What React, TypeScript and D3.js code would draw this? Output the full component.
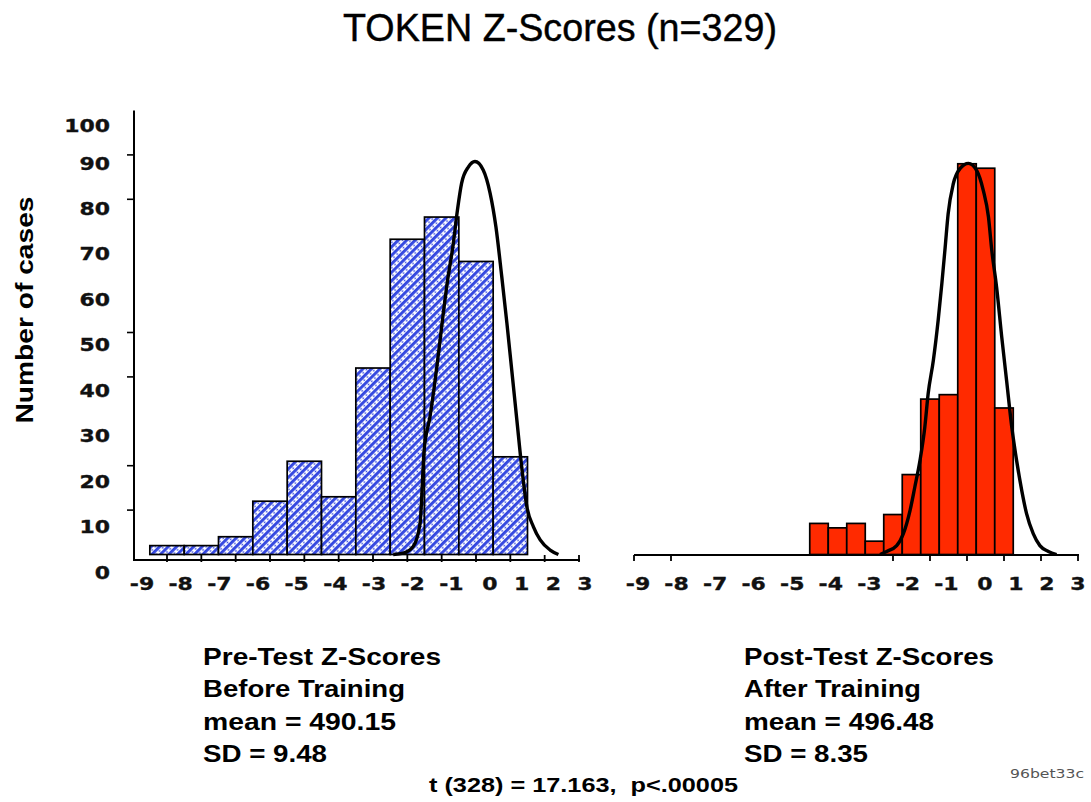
import React from "react";
import * as d3 from "d3";

// ---------- data ----------
const zTicksPre = [-9, -8, -7, -6, -5, -4, -3, -2, -1, 0, 1, 2, 3];
const zTicksPost = [-9, -8, -2, -1, 0, 1, 2, 3];
const zTickLabels = [-9, -8, -7, -6, -5, -4, -3, -2, -1, 0, 1, 2, 3];
const yTickMarks = [10, 20, 40, 50, 80, 90];
const yTickLabels = [0, 10, 20, 30, 40, 50, 60, 70, 80, 90, 100];

const preBinWidth = 1;
const preBinCenters = [-9, -8, -7, -6, -5, -4, -3, -2, -1, 0, 1];
const preCounts = [2, 2, 4, 12, 21, 13, 42, 71, 76, 66, 22];

const postBinWidth = 0.5;
const postBinCenters = [-4, -3.5, -3, -2.5, -2, -1.5, -1, -0.5, 0, 0.5, 1];
const postCounts = [7, 6, 7, 3, 9, 18, 35, 36, 88, 87, 33];

const preCurveZ = [-2.41, -2.12, -1.83, -1.63, -1.51, -1.34, -1.14, -1.0, -0.84, -0.66, -0.54, -0.42, -0.22, -0.03, 0.21, 0.41, 0.58, 0.75, 0.9, 1.04, 1.19, 1.33, 1.48, 1.67, 1.87, 2.16, 2.4];
const preCurveN = [0, 0.3, 1.8, 7, 23.5, 31, 42.3, 51.3, 61.1, 70.1, 77.6, 83.6, 87.3, 88.5, 86.6, 81.4, 73.8, 62.6, 52.1, 41.6, 30.3, 19.8, 10.8, 6.3, 3.3, 1.0, 0];

const postCurveZ = [-2.35, -2.17, -1.9, -1.72, -1.54, -1.41, -1.27, -1.14, -1.05, -0.91, -0.78, -0.68, -0.59, -0.51, -0.37, -0.19, 0.04, 0.26, 0.44, 0.58, 0.67, 0.8, 0.94, 1.07, 1.21, 1.34, 1.48, 1.61, 1.79, 1.97, 2.2, 2.42];
const postCurveN = [0, 0.7, 2.0, 4.7, 9.9, 15.2, 21.2, 28.7, 36.2, 43.7, 52.7, 61.0, 69.2, 76.7, 83.5, 86.9, 88.1, 86.5, 82.0, 76.0, 68.5, 60.2, 48.9, 39.2, 28.7, 21.2, 14.4, 9.2, 4.7, 2.0, 0.7, 0];

const title = "TOKEN Z-Scores (n=329)";
const yTitle = "Number of cases";
const preCaption = ["Pre-Test Z-Scores", "Before Training", "mean = 490.15", "SD = 9.48"];
const postCaption = ["Post-Test Z-Scores", "After Training", "mean = 496.48", "SD = 8.35"];
const tTest = "t (328) = 17.163,  p<.00005";
const fileTag = "96bet33c";

// ---------- layout ----------
const W = 1091;
const H = 802;
const yScale = d3.scaleLinear().domain([0, 100]).range([554.5, 110.5]);
const xPre = d3.scaleLinear().domain([-9, 3]).range([167, 579]);
const xPost = d3.scaleLinear().domain([-9, 3]).range([634, 1078]);
const xPreLabel = d3.scaleLinear().domain([-9, 0, 3]).range([142, 490, 585]);
const xPostLabel = d3.scaleLinear().domain([-9, 0, 3]).range([638, 985, 1078]);
const yLabelPos = d3.scaleLinear().domain([0, 90, 100]).range([572, 163, 125]);

const tickFont = "'DejaVu Sans', Verdana, sans-serif";
const textFont = "'Liberation Sans', Arial, Helvetica, sans-serif";

const captionLens = [238, 202, 193, 124];
const postCaptionLens = [250, 177, 190, 124];
const captionBaselines = [665, 697, 730, 762];

function Bars({ centers, counts, width, x, fill }) {
  return (
    <g>
      {centers.map((c, i) => {
        const x0 = x(c - width / 2);
        const x1 = x(c + width / 2);
        const y0 = yScale(counts[i]);
        return (
          <rect
            key={i}
            x={x0}
            y={y0}
            width={x1 - x0}
            height={yScale(0) - y0}
            fill={fill}
            stroke="#000"
            strokeWidth={1.7}
          />
        );
      })}
    </g>
  );
}

function Curve({ zs, ns, x }) {
  const pts = zs.map((z, i) => [z, ns[i]]);
  const line = d3
    .line()
    .x((d) => x(d[0]))
    .y((d) => yScale(d[1]))
    .curve(d3.curveMonotoneX);
  return <path d={line(pts) || ""} fill="none" stroke="#000" strokeWidth={3.4} strokeLinejoin="round" />;
}

function TickLabel({ x, y, anchor, text }) {
  return (
    <text
      transform={`translate(${x},${y}) scale(1.22,1)`}
      textAnchor={anchor}
      fontFamily={tickFont}
      fontWeight="bold"
      fontSize={18}
      fill="#111"
      stroke="#111"
      strokeWidth={0.35}
    >
      {text}
    </text>
  );
}

export default function App() {
  const preAxisY = 560;
  const postAxisY = 555;
  return (
    <svg
      width={W}
      height={H}
      viewBox={`0 0 ${W} ${H}`}
      style={{ position: "absolute", left: 0, top: 0, background: "#fff" }}
    >
      <defs>
        <pattern id="hatch" patternUnits="userSpaceOnUse" width={6} height={4.5} patternTransform="rotate(45)">
          <rect x={0} y={0} width={6} height={4.5} fill="#ffffff" />
          <rect x={0} y={0} width={2.9} height={4.5} fill="#3347e0" />
          <circle cx={4.45} cy={2.25} r={0.9} fill="#3347e0" />
        </pattern>
      </defs>
      <rect x={0} y={0} width={W} height={H} fill="#fff" />

      {/* title */}
      <text
        x={560}
        y={41}
        textAnchor="middle"
        fontFamily={textFont}
        fontSize={38}
        textLength={434}
        lengthAdjust="spacingAndGlyphs"
        fill="#000"
        stroke="#000"
        strokeWidth={0.4}
      >
        {title}
      </text>

      {/* y axis title */}
      <text
        transform="translate(33,310) rotate(-90)"
        textAnchor="middle"
        fontFamily={textFont}
        fontWeight="bold"
        fontSize={24}
        textLength={227}
        lengthAdjust="spacingAndGlyphs"
      >
        {yTitle}
      </text>

      {/* left panel bars */}
      <Bars centers={preBinCenters} counts={preCounts} width={preBinWidth} x={xPre} fill="url(#hatch)" />
      <Curve zs={preCurveZ} ns={preCurveN} x={xPre} />

      {/* left axes */}
      <line x1={134} x2={134} y1={yScale(100)} y2={preAxisY} stroke="#000" strokeWidth={2} />
      <line x1={133} x2={xPre(3) + 1} y1={preAxisY} y2={preAxisY} stroke="#000" strokeWidth={2} />
      {yTickMarks.map((v) => (
        <line key={v} x1={127} x2={134} y1={yScale(v)} y2={yScale(v)} stroke="#000" strokeWidth={1.6} />
      ))}
      {zTicksPre.map((z) => (
        <line key={z} x1={xPre(z)} x2={xPre(z)} y1={preAxisY - 5} y2={preAxisY + 2} stroke="#000" strokeWidth={1.8} />
      ))}
      {yTickLabels.map((v) => (
        <TickLabel key={v} x={110} y={yLabelPos(v) + 6.5} anchor="end" text={v} />
      ))}
      {zTickLabels.map((z) => (
        <TickLabel key={z} x={xPreLabel(z)} y={590} anchor="middle" text={z} />
      ))}

      {/* right panel */}
      <Bars centers={postBinCenters} counts={postCounts} width={postBinWidth} x={xPost} fill="#ff2a00" />
      <Curve zs={postCurveZ} ns={postCurveN} x={xPost} />
      <line x1={xPost(-9)} x2={xPost(3) + 1} y1={postAxisY} y2={postAxisY} stroke="#000" strokeWidth={2} />
      {zTicksPost.map((z) => (
        <line key={z} x1={xPost(z)} x2={xPost(z)} y1={postAxisY} y2={postAxisY + 6} stroke="#000" strokeWidth={1.8} />
      ))}
      {zTickLabels.map((z) => (
        <TickLabel key={z} x={xPostLabel(z)} y={590} anchor="middle" text={z} />
      ))}

      {/* captions */}
      {preCaption.map((s, i) => (
        <text
          key={s}
          x={203}
          y={captionBaselines[i]}
          fontFamily={textFont}
          fontWeight="bold"
          fontSize={23}
          textLength={captionLens[i]}
          lengthAdjust="spacingAndGlyphs"
        >
          {s}
        </text>
      ))}
      {postCaption.map((s, i) => (
        <text
          key={s}
          x={744}
          y={captionBaselines[i]}
          fontFamily={textFont}
          fontWeight="bold"
          fontSize={23}
          textLength={postCaptionLens[i]}
          lengthAdjust="spacingAndGlyphs"
        >
          {s}
        </text>
      ))}
      <text
        x={429}
        y={792}
        fontFamily={textFont}
        fontWeight="bold"
        fontSize={21}
        textLength={309}
        lengthAdjust="spacingAndGlyphs"
        style={{ whiteSpace: "pre" }}
      >
        {tTest}
      </text>
      <text
        x={1010}
        y={778}
        fontFamily={tickFont}
        fontSize={12}
        fill="#555"
        textLength={74}
        lengthAdjust="spacingAndGlyphs"
      >
        {fileTag}
      </text>
    </svg>
  );
}
